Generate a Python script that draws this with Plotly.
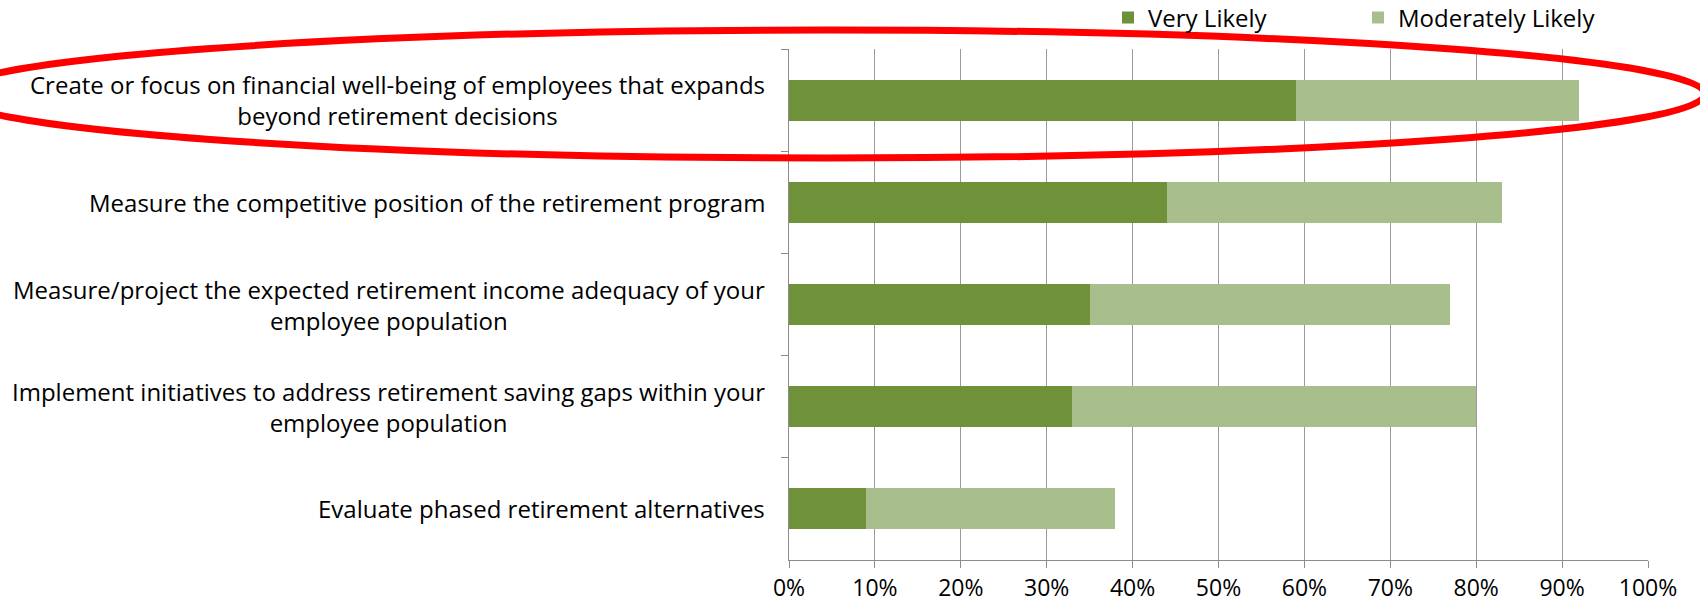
import plotly.graph_objects as go

categories = [
    "Create or focus on financial well-being of employees that expands<br>beyond retirement decisions",
    "Measure the competitive position of the retirement program",
    "Measure/project the expected retirement income adequacy of your<br>employee population",
    "Implement initiatives to address retirement saving gaps within your<br>employee population",
    "Evaluate phased retirement alternatives",
]
very_likely = [59, 44, 35, 33, 9]
moderately_likely = [33, 39, 42, 47, 29]
x_ticks = [0, 10, 20, 30, 40, 50, 60, 70, 80, 90, 100]
x_tick_labels = [f"{v}%" for v in x_ticks]

FONT = "Open Sans, Liberation Sans, Arial, sans-serif"
W, H = 1700, 607
L, R, T, B = 789, 52, 49, 47
pw = W - L - R
ph = H - T - B

fig = go.Figure()
fig.add_trace(go.Bar(
    y=categories, x=very_likely, orientation="h", name="Very Likely",
    marker=dict(color="#6F9139", line=dict(width=0)),
))
fig.add_trace(go.Bar(
    y=categories, x=moderately_likely, orientation="h", name="Moderately Likely",
    marker=dict(color="#A8BF8D", line=dict(width=0)),
))

for c in categories:
    fig.add_annotation(
        x=0, xref="paper", y=c, yref="y", text=c, showarrow=False,
        xanchor="right", yanchor="middle", align="center", xshift=-22,
        font=dict(family=FONT, size=24, color="#000000"),
    )

def px_to_paper_x(px):
    return (px - L) / pw

def px_to_paper_y(py):
    return (H - B - py) / ph

fig.add_shape(
    type="circle", xref="paper", yref="paper",
    x0=px_to_paper_x(-50), x1=px_to_paper_x(1705),
    y0=px_to_paper_y(158), y1=px_to_paper_y(30),
    line=dict(color="#FF0000", width=7), layer="above",
)

fig.update_layout(
    width=W, height=H,
    margin=dict(l=L, r=R, t=T, b=B, pad=0),
    paper_bgcolor="white", plot_bgcolor="white",
    barmode="stack", bargap=0.6,
    font=dict(family=FONT, size=23, color="#000000"),
    showlegend=True,
    legend=dict(
        orientation="h", x=1108 / W, xref="container", y=1 - 18 / H, yref="container",
        xanchor="left", yanchor="middle", bgcolor="rgba(0,0,0,0)",
        font=dict(family=FONT, size=24), entrywidth=205, entrywidthmode="pixels",
        traceorder="normal", itemclick=False,
    ),
    xaxis=dict(
        range=[0, 100], tickvals=x_ticks, ticktext=x_tick_labels,
        showgrid=True, gridcolor="#9A9A9A", gridwidth=1,
        showline=True, linecolor="#8C8C8C", linewidth=1,
        ticks="outside", ticklen=7, tickcolor="#8C8C8C",
        zeroline=False, fixedrange=True, automargin=False,
        tickfont=dict(family=FONT, size=23),
    ),
    yaxis=dict(
        categoryorder="array", categoryarray=categories, autorange="reversed",
        showticklabels=False, showgrid=False,
        showline=True, linecolor="#8C8C8C", linewidth=1,
        ticks="outside", ticklen=7, tickcolor="#8C8C8C", tickson="boundaries",
        zeroline=False, fixedrange=True, automargin=False,
    ),
)

fig.write_html("out.html")
